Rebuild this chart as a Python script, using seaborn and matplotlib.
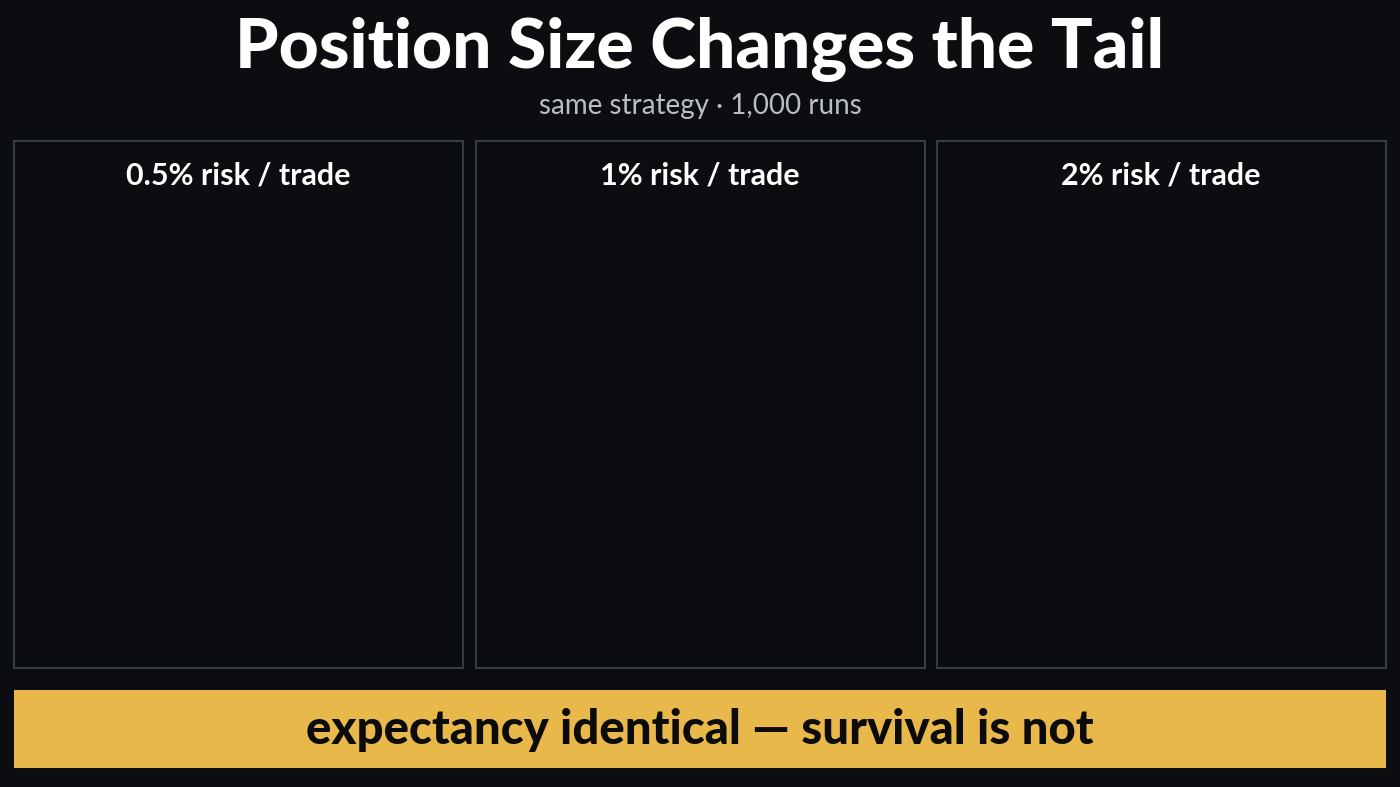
import numpy as np
import pandas as pd
import matplotlib
matplotlib.use("Agg")
import matplotlib.pyplot as plt
import seaborn as sns
from matplotlib.patches import Rectangle, FancyArrowPatch

titles = ["0.5% risk / trade", "1% risk / trade", "2% risk / trade"]
bin_widths = [1.0, 25 / 22, 25 / 21]
counts = [
    [10, 26, 63, 94, 134, 171, 189, 178, 149, 123, 97, 75, 59, 45, 34, 24, 18, 13, 9, 5, 3, 2, 1, 1],
    [2, 8, 29, 48, 79, 108, 123, 148, 168, 171, 151, 138, 120, 98, 77, 67, 50, 37, 33, 26, 19, 15,
     11, 8, 6, 4, 3, 2, 2, 1, 1, 1, 1],
    [2, 7, 19, 39, 55, 65, 89, 108, 123, 137, 143, 134, 128, 115, 117, 97, 84, 74, 62, 57, 49,
     44, 36, 33, 30, 25, 21, 21, 16, 11, 9, 8, 5, 6, 3, 3, 2, 2, 1, 1],
]
tail_labels = [None, "~3.2%", "~14%"]
threshold = 25
xticks = [0, 10, 20, 30, 40, 50]
yticks = [0, 50, 100, 150, 200]

BG = "#0b0d10"
BLUE = "#3db9e2"
RED = "#f0504a"
GRID = "#c9ced3"

sns.set_theme(style="dark")
plt.rcParams["font.family"] = ["Lato", "DejaVu Sans"]

fig = plt.figure(figsize=(14, 7.87), dpi=100, facecolor=BG)
W, H = 1400, 787

def fx(px): return px / W
def fy(py): return 1 - py / H

fig.text(0.5, fy(50), "Position Size Changes the Tail", ha="center", va="center",
         color="white", fontsize=50, fontweight="black")
fig.text(0.5, fy(106), "same strategy · 1,000 runs", ha="center", va="center",
         color="#b9bec4", fontsize=20)

box_x = [14, 476, 937]
ax_left = [85, 547, 1009]
for i in range(3):
    fig.patches.append(Rectangle((fx(box_x[i]), fy(668)), fx(449), (668 - 141) / H,
                                 transform=fig.transFigure, facecolor=BG,
                                 edgecolor="#33403f", lw=1.5, zorder=0))
    fig.text(fx(box_x[i] + 224), fy(176), titles[i], ha="center", va="center",
             color="white", fontsize=22, fontweight="bold")
    ax = fig.add_axes([fx(ax_left[i]), fy(584), fx(355), (584 - 215) / H])
    ax.set_facecolor(BG)
    c = np.array(counts[i], dtype=float)
    bw = bin_widths[i]
    centers = (np.arange(len(c)) + 0.5) * bw
    df = pd.DataFrame({"dd": centers, "n": c})
    df["zone"] = np.where(centers < threshold, "safe", "ruin")
    ax.axvline(threshold, color=RED, ls=(0, (4, 3)), lw=2, zorder=1)
    for zone, col in [("safe", BLUE), ("ruin", RED)]:
        sub = df[df.zone == zone]
        if len(sub):
            lo = float(sub.dd.min() - bw / 2)
            hi = float(sub.dd.max() + bw / 2)
            sns.histplot(data=sub, x="dd", weights="n", binwidth=bw, binrange=(lo, hi),
                         color=col, alpha=1,
                         edgecolor="#14505f" if zone == "safe" else "#7a2020",
                         linewidth=0.6, ax=ax, zorder=2)
    ax.set_xlim(0, 50)
    ax.set_ylim(0, 200)
    ax.set_xticks(xticks)
    ax.set_xticklabels([f"{t}%" for t in xticks])
    ax.set_yticks(yticks)
    ax.tick_params(colors="#e6e8ea", labelsize=12, length=5, color=GRID, width=1)
    for s in ["top", "right"]:
        ax.spines[s].set_visible(False)
    for s in ["left", "bottom"]:
        ax.spines[s].set_color(GRID)
        ax.spines[s].set_linewidth(1.2)
    ax.set_xlabel("Max drawdown", color="#e6e8ea", fontsize=13, labelpad=10)
    ax.set_ylabel("Runs", color="#e6e8ea", fontsize=12)
    ax.grid(False)
    ax.text(threshold + 1, 195, "25% ruin threshold", color=RED, fontsize=12.5,
            va="center", ha="left")
    if tail_labels[i]:
        if i == 1:
            tx, ty, a0, a1 = 29.5, 34, (29.3, 26), (26.5, 16)
        else:
            tx, ty, a0, a1 = 37.5, 41, (34.2, 36), (32.5, 22)
        ax.text(tx, ty, tail_labels[i], color=RED, fontsize=17, fontweight="bold",
                ha="center", va="center")
        ax.add_patch(FancyArrowPatch(a0, a1, connectionstyle="arc3,rad=0.3",
                                     arrowstyle="-|>,head_width=4,head_length=6",
                                     color=RED, lw=2.5, zorder=5))

fig.patches.append(Rectangle((fx(14), fy(768)), fx(1372), (768 - 690) / H,
                             transform=fig.transFigure, facecolor="#e9b84b",
                             edgecolor="none", zorder=0))
fig.text(0.5, fy(730), "expectancy identical — survival is not", ha="center", va="center",
         color="#0b0b0b", fontsize=34, fontweight="black")

fig.savefig("out.png", dpi=100, facecolor=BG)
